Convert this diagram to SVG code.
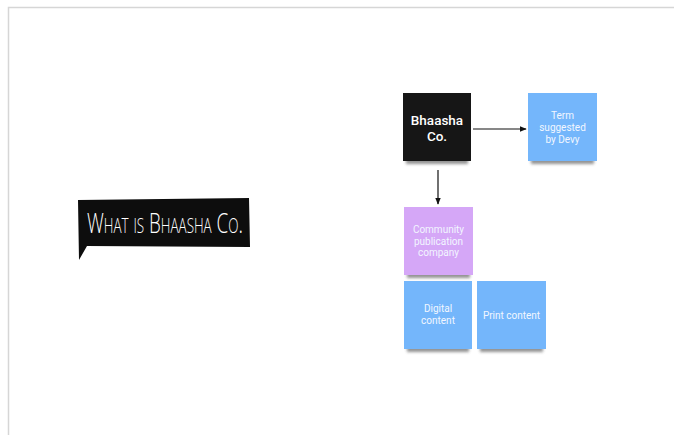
<svg xmlns="http://www.w3.org/2000/svg" width="674" height="435" viewBox="0 0 674 435">
  <style>
    .note-text { font-family: Roboto, "Liberation Sans", sans-serif; fill: #ffffff; text-anchor: middle; }
    .small { font-size: 10px; fill: #f2f6ff; }
    .big { font-size: 13.5px; font-weight: 500; }
    .conn { stroke: #111111; stroke-width: 1.2; fill: none; }
    .shade { fill: #3a3a3a; opacity: 0.55; filter: url(#soft); }
  </style>
  <defs>
    <marker id="arrow" viewBox="0 0 10 10" refX="9" refY="5" markerWidth="6" markerHeight="6" orient="auto">
      <path d="M0,1 L10,5 L0,9 z" fill="#111111"/>
    </marker>
    <filter id="soft" x="-20%" y="-100%" width="140%" height="300%">
      <feGaussianBlur stdDeviation="1.8"/>
    </filter>
  </defs>

  <!-- canvas frame -->
  <rect x="0" y="0" width="674" height="435" fill="#ffffff"/>
  <path d="M8.5,435 L8.5,7.5 L674,7.5" fill="none" stroke="#d6d6d6" stroke-width="1.5"/>

  <!-- speech bubble title -->
  <g id="title">
    <path d="M78,200 L249,198 L250,247 L87,246 L79,260 Z" fill="#0d0d0d"/>
    <text x="87" y="233" textLength="156" lengthAdjust="spacingAndGlyphs" font-family="'Open Sans', 'DejaVu Sans Condensed', sans-serif" font-weight="300" font-size="28" font-variant="small-caps" fill="#ffffff">What is Bhaasha Co.</text>
  </g>

  <!-- connectors -->
  <g id="connectors">
    <line class="conn" x1="473" y1="129" x2="526" y2="129" marker-end="url(#arrow)"/>
    <line class="conn" x1="438" y1="170" x2="438" y2="204" marker-end="url(#arrow)"/>
  </g>

  <g id="bhaasha">
    <rect class="shade" x="406" y="156" width="62" height="8"/>
    <rect x="403" y="93" width="68" height="68" fill="#161616"/>
    <text class="note-text big" x="437" y="125">Bhaasha</text>
    <text class="note-text big" x="437" y="141">Co.</text>
  </g>

  <g id="term">
    <rect class="shade" x="531" y="156" width="63" height="8"/>
    <rect x="528" y="93" width="69" height="68" fill="#74b6fb"/>
    <text class="note-text small" x="562.5" y="119">Term</text>
    <text class="note-text small" x="562.5" y="131">suggested</text>
    <text class="note-text small" x="562.5" y="143">by Devy</text>
  </g>

  <g id="community">
    <rect class="shade" x="407" y="270" width="63" height="8"/>
    <rect x="404" y="207" width="69" height="68" fill="#d5a7f7"/>
    <text class="note-text small" x="438.5" y="233">Community</text>
    <text class="note-text small" x="438.5" y="244.5">publication</text>
    <text class="note-text small" x="438.5" y="256">company</text>
  </g>

  <g id="digital">
    <rect class="shade" x="407" y="344" width="62" height="8"/>
    <rect x="404" y="281" width="68" height="68" fill="#74b6fb"/>
    <text class="note-text small" x="438" y="312">Digital</text>
    <text class="note-text small" x="438" y="323.5">content</text>
  </g>

  <g id="print">
    <rect class="shade" x="480" y="344" width="63" height="8"/>
    <rect x="477" y="281" width="69" height="68" fill="#74b6fb"/>
    <text class="note-text small" x="511.5" y="318.5">Print content</text>
  </g>
</svg>
